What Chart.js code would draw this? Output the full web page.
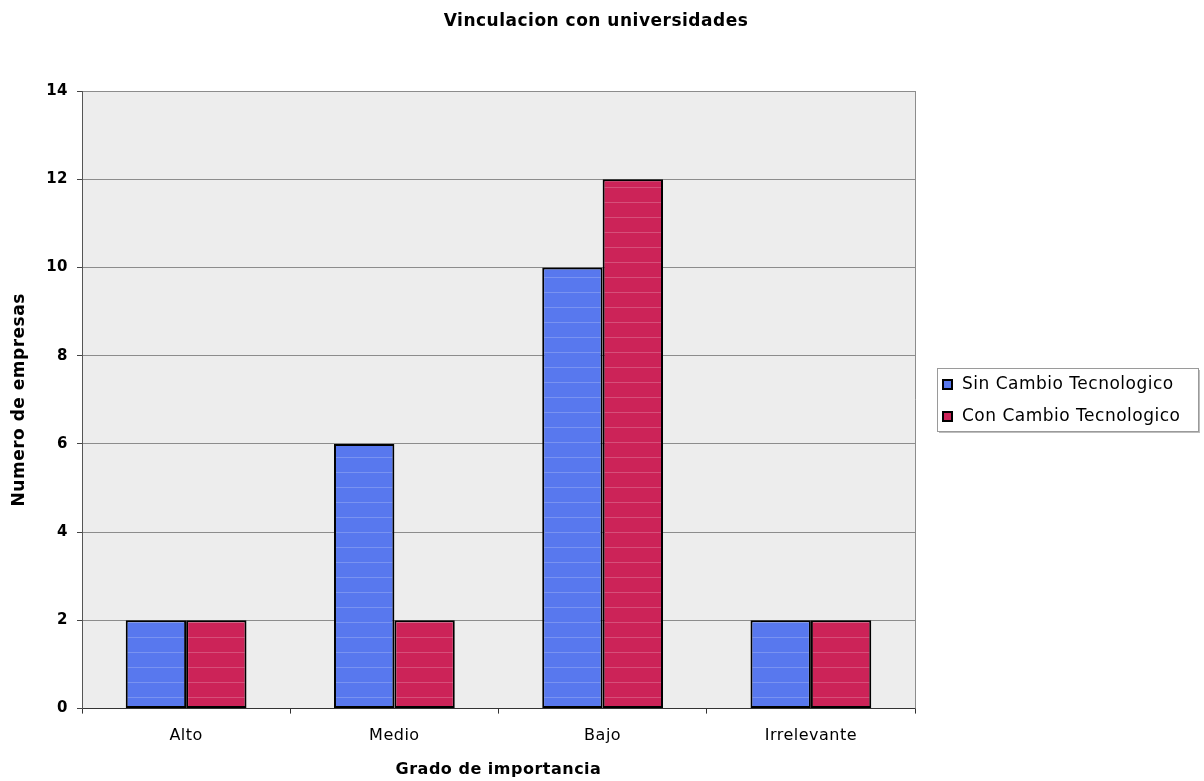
<!DOCTYPE html>
<html>
<head>
<meta charset="utf-8">
<script src="https://cdn.jsdelivr.net/npm/chart.js@4.4.1/dist/chart.umd.min.js"></script>
<style>
  html, body { margin: 0; padding: 0; background: #ffffff; }
  #wrap { width: 1204px; height: 781px; position: relative; }
</style>
</head>
<body>
<div id="wrap"><canvas id="c" width="1204" height="781"></canvas></div>
<script>
// Categories and series
const categories = ['Alto', 'Medio', 'Bajo', 'Irrelevante'];
const sinCambio = [2, 6, 10, 2];
const conCambio = [2, 2, 12, 2];
const seriesNames = ['Sin Cambio Tecnologico', 'Con Cambio Tecnologico'];
const chartTitle = 'Vinculacion con universidades';
const xTitle = 'Grado de importancia';
const yTitle = 'Numero de empresas';
const yTicks = [0, 2, 4, 6, 8, 10, 12, 14];

const FONT = '"DejaVu Sans", Verdana, sans-serif';
const SPACING = '0.5px';
const BLUE = '#5878ee';
const RED = '#cc2358';

// Striped fill: base colour with faint lighter lines
function stripes(base) {
  const c = document.createElement('canvas');
  c.width = 8; c.height = 15;
  const g = c.getContext('2d');
  g.fillStyle = base;
  g.fillRect(0, 0, 8, 15);
  g.fillStyle = 'rgba(255,255,255,0.2)';
  g.fillRect(0, 7, 8, 1);
  return g.createPattern(c, 'repeat');
}

const spacingPlugin = {
  id: 'spacing',
  beforeLayout(chart) { chart.ctx.letterSpacing = SPACING; },
  beforeDraw(chart) { chart.ctx.letterSpacing = SPACING; }
};

const frame = {
  id: 'frame',
  beforeDraw(chart) {
    const { ctx, chartArea: a } = chart;
    ctx.save();
    ctx.fillStyle = '#ededed';
    ctx.fillRect(a.left, a.top, a.right - a.left, a.bottom - a.top);
    ctx.restore();
  },
  afterDraw(chart) {
    const { ctx, chartArea: a } = chart;
    ctx.save();
    ctx.letterSpacing = SPACING;
    // plot frame right edge
    ctx.strokeStyle = '#8c8c8c';
    ctx.lineWidth = 1;
    ctx.beginPath();
    ctx.moveTo(a.right + 0.5, a.top);
    ctx.lineTo(a.right + 0.5, a.bottom);
    ctx.stroke();

    // title
    ctx.fillStyle = '#000';
    ctx.font = 'bold 17px ' + FONT;
    ctx.textAlign = 'center';
    ctx.textBaseline = 'middle';
    ctx.fillText(chartTitle, 596, 22);

    // legend box
    const lx = 937, ly = 368, lw = 261, lh = 63;
    ctx.fillStyle = '#bdbdbd';
    ctx.fillRect(lx + 2, ly + 2, lw, lh);
    ctx.fillStyle = '#ffffff';
    ctx.fillRect(lx, ly, lw, lh);
    ctx.strokeStyle = '#9a9a9a';
    ctx.strokeRect(lx + 0.5, ly + 0.5, lw, lh);

    const colors = [BLUE, RED];
    const rows = [384, 416];
    ctx.font = '17px ' + FONT;
    ctx.textAlign = 'left';
    for (let i = 0; i < 2; i++) {
      ctx.fillStyle = '#000';
      ctx.fillRect(942, rows[i] - 5, 11, 11);
      ctx.fillStyle = colors[i];
      ctx.fillRect(944, rows[i] - 3, 7, 7);
      ctx.fillStyle = '#000';
      ctx.fillText(seriesNames[i], 962, rows[i] + 1);
    }
    ctx.restore();
  }
};

new Chart(document.getElementById('c'), {
  type: 'bar',
  data: {
    labels: categories,
    datasets: [
      { label: seriesNames[0], data: sinCambio, backgroundColor: stripes(BLUE),
        borderColor: '#000', borderWidth: 2, borderSkipped: false },
      { label: seriesNames[1], data: conCambio, backgroundColor: stripes(RED),
        borderColor: '#000', borderWidth: 2, borderSkipped: false }
    ]
  },
  options: {
    responsive: false,
    animation: false,
    devicePixelRatio: 1,
    layout: { padding: { top: 91, right: 289, bottom: 0, left: 0 } },
    datasets: { bar: { categoryPercentage: 0.58, barPercentage: 1.0 } },
    plugins: {
      legend: { display: false },
      title: { display: false },
      tooltip: { enabled: false }
    },
    scales: {
      x: {
        grid: { display: true, drawOnChartArea: false, tickLength: 5, color: '#333', offset: true },
        border: { display: true, color: '#333', width: 1 },
        ticks: { color: '#000', font: { family: FONT, size: 16 }, padding: 13 },
        title: { display: true, text: xTitle, color: '#000',
                 font: { family: FONT, size: 16, weight: 'bold' }, padding: { top: 1, bottom: 2 } }
      },
      y: {
        min: 0, max: 14,
        afterFit(scale) { scale.width = 82; },
        afterBuildTicks(scale) { scale.ticks = yTicks.map(v => ({ value: v })); },
        grid: { color: '#8c8c8c', lineWidth: 1, tickLength: 5, tickColor: '#444' },
        border: { display: true, color: '#555', width: 1 },
        ticks: { color: '#000', font: { family: FONT, size: 15, weight: 'bold' }, padding: 9 },
        title: { display: true, text: yTitle, color: '#000',
                 font: { family: FONT, size: 17, weight: 'bold' }, padding: { top: 9, bottom: 0 } }
      }
    }
  },
  plugins: [spacingPlugin, frame]
});
</script>
</body>
</html>
